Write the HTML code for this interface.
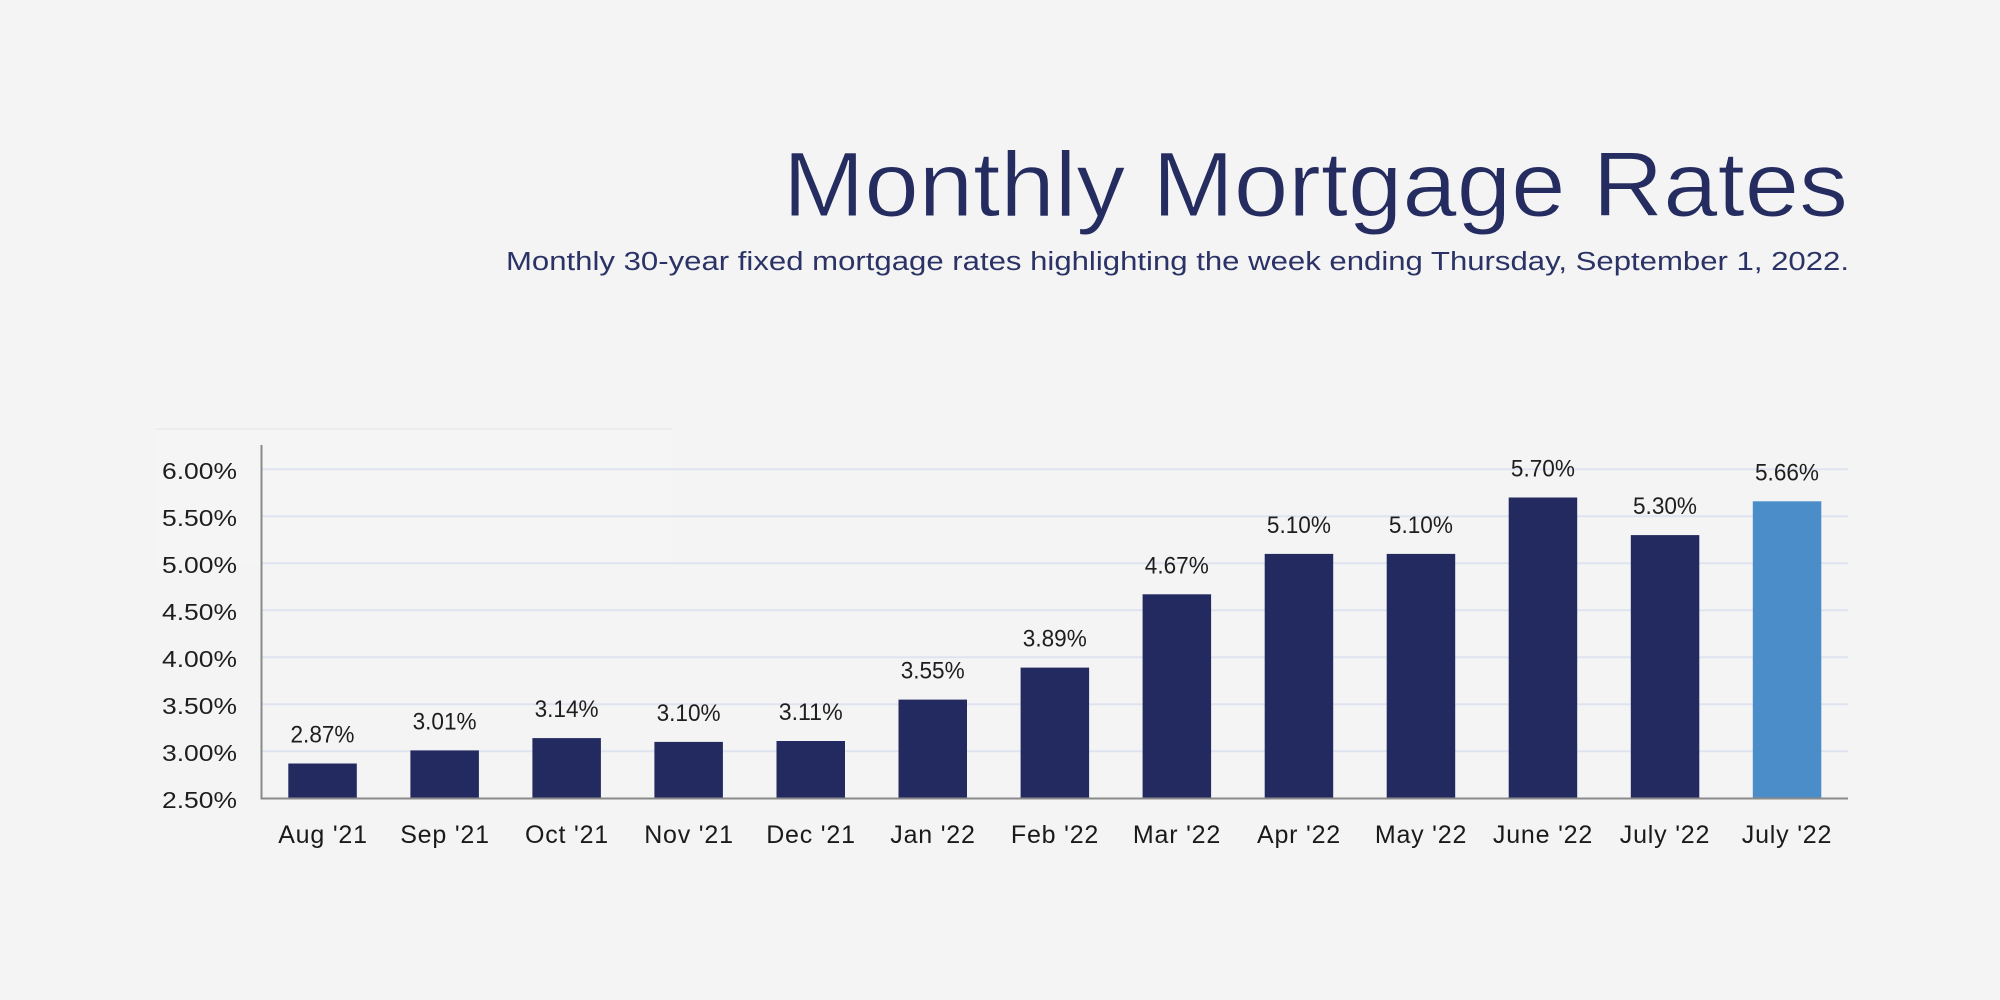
<!DOCTYPE html>
<html>
<head>
<meta charset="utf-8">
<style>
  html, body { margin: 0; padding: 0; background: #f4f4f4; }
  body { width: 2000px; height: 1000px; overflow: hidden; }
  svg { display: block; font-family: "Liberation Sans", Arial, sans-serif; }
</style>
</head>
<body>
<svg width="2000" height="1000" viewBox="0 0 2000 1000" xmlns="http://www.w3.org/2000/svg">
  <rect x="0" y="0" width="2000" height="1000" fill="#f4f4f4"/>
  <!-- faint panel -->
  <rect x="156" y="430" width="516" height="136" fill="#f5f5f5"/>
  <line x1="156" y1="429" x2="672" y2="429" stroke="#ececec" stroke-width="2"/>

  <!-- Title -->
  <text x="783" y="216" font-size="92" fill="#252c60" stroke="#f4f4f4" stroke-width="1" textLength="1065" lengthAdjust="spacingAndGlyphs">Monthly Mortgage Rates</text>
  <text x="506" y="270" font-size="25.5" fill="#2b3266" textLength="1343" lengthAdjust="spacingAndGlyphs">Monthly 30-year fixed mortgage rates highlighting the week ending Thursday, September 1, 2022.</text>

  <!-- gridlines -->
  <g stroke="#dfe3f0" stroke-width="2">
    <line x1="262" y1="751.3" x2="1848" y2="751.3"/>
    <line x1="262" y1="704.3" x2="1848" y2="704.3"/>
    <line x1="262" y1="657.3" x2="1848" y2="657.3"/>
    <line x1="262" y1="610.3" x2="1848" y2="610.3"/>
    <line x1="262" y1="563.3" x2="1848" y2="563.3"/>
    <line x1="262" y1="516.3" x2="1848" y2="516.3"/>
    <line x1="262" y1="469.3" x2="1848" y2="469.3"/>
  </g>

  <!-- y labels -->
  <g font-size="23.5" fill="#1e1e1e" text-anchor="end">
    <text x="237" y="479" textLength="75" lengthAdjust="spacingAndGlyphs">6.00%</text>
    <text x="237" y="526" textLength="75" lengthAdjust="spacingAndGlyphs">5.50%</text>
    <text x="237" y="573" textLength="75" lengthAdjust="spacingAndGlyphs">5.00%</text>
    <text x="237" y="620" textLength="75" lengthAdjust="spacingAndGlyphs">4.50%</text>
    <text x="237" y="667" textLength="75" lengthAdjust="spacingAndGlyphs">4.00%</text>
    <text x="237" y="714" textLength="75" lengthAdjust="spacingAndGlyphs">3.50%</text>
    <text x="237" y="761" textLength="75" lengthAdjust="spacingAndGlyphs">3.00%</text>
    <text x="237" y="808" textLength="75" lengthAdjust="spacingAndGlyphs">2.50%</text>
  </g>

  <!-- bars -->
  <g fill="#222a5f">
    <rect x="288.3" y="763.5" width="68.5" height="35"/>
    <rect x="410.4" y="750.4" width="68.5" height="48.1"/>
    <rect x="532.4" y="738.1" width="68.5" height="60.4"/>
    <rect x="654.4" y="741.9" width="68.5" height="56.6"/>
    <rect x="776.5" y="741.0" width="68.5" height="57.5"/>
    <rect x="898.5" y="699.6" width="68.5" height="98.9"/>
    <rect x="1020.6" y="667.6" width="68.5" height="130.9"/>
    <rect x="1142.6" y="594.3" width="68.5" height="204.2"/>
    <rect x="1264.7" y="553.9" width="68.5" height="244.6"/>
    <rect x="1386.7" y="553.9" width="68.5" height="244.6"/>
    <rect x="1508.7" y="497.5" width="68.5" height="301"/>
    <rect x="1630.8" y="535.1" width="68.5" height="263.4"/>
  </g>
  <rect x="1752.8" y="501.3" width="68.5" height="297.2" fill="#4b8dc9"/>

  <!-- axes -->
  <line x1="261.5" y1="445" x2="261.5" y2="799.5" stroke="#8a8a8a" stroke-width="2"/>
  <line x1="260.5" y1="798.5" x2="1848" y2="798.5" stroke="#8a8a8a" stroke-width="2"/>

  <!-- value labels -->
  <g font-size="24" fill="#1e1e1e" text-anchor="middle">
    <text x="322.5" y="742.5" textLength="64" lengthAdjust="spacingAndGlyphs">2.87%</text>
    <text x="444.6" y="729.4" textLength="64" lengthAdjust="spacingAndGlyphs">3.01%</text>
    <text x="566.6" y="717.1" textLength="64" lengthAdjust="spacingAndGlyphs">3.14%</text>
    <text x="688.6" y="720.9" textLength="64" lengthAdjust="spacingAndGlyphs">3.10%</text>
    <text x="810.7" y="720.0" textLength="64" lengthAdjust="spacingAndGlyphs">3.11%</text>
    <text x="932.7" y="678.6" textLength="64" lengthAdjust="spacingAndGlyphs">3.55%</text>
    <text x="1054.8" y="646.6" textLength="64" lengthAdjust="spacingAndGlyphs">3.89%</text>
    <text x="1176.8" y="573.3" textLength="64" lengthAdjust="spacingAndGlyphs">4.67%</text>
    <text x="1298.9" y="532.9" textLength="64" lengthAdjust="spacingAndGlyphs">5.10%</text>
    <text x="1420.9" y="532.9" textLength="64" lengthAdjust="spacingAndGlyphs">5.10%</text>
    <text x="1542.9" y="476.5" textLength="64" lengthAdjust="spacingAndGlyphs">5.70%</text>
    <text x="1665.0" y="514.1" textLength="64" lengthAdjust="spacingAndGlyphs">5.30%</text>
    <text x="1787.0" y="480.3" textLength="64" lengthAdjust="spacingAndGlyphs">5.66%</text>
  </g>

  <!-- x labels -->
  <g font-size="25" fill="#1a1a1a" text-anchor="middle" letter-spacing="0.8">
    <text x="323" y="843">Aug '21</text>
    <text x="445" y="843">Sep '21</text>
    <text x="567" y="843">Oct '21</text>
    <text x="689" y="843">Nov '21</text>
    <text x="811" y="843">Dec '21</text>
    <text x="933" y="843">Jan '22</text>
    <text x="1055" y="843">Feb '22</text>
    <text x="1177" y="843">Mar '22</text>
    <text x="1299" y="843">Apr '22</text>
    <text x="1421" y="843">May '22</text>
    <text x="1543" y="843">June '22</text>
    <text x="1665" y="843">July '22</text>
    <text x="1787" y="843">July '22</text>
  </g>
</svg>
</body>
</html>
